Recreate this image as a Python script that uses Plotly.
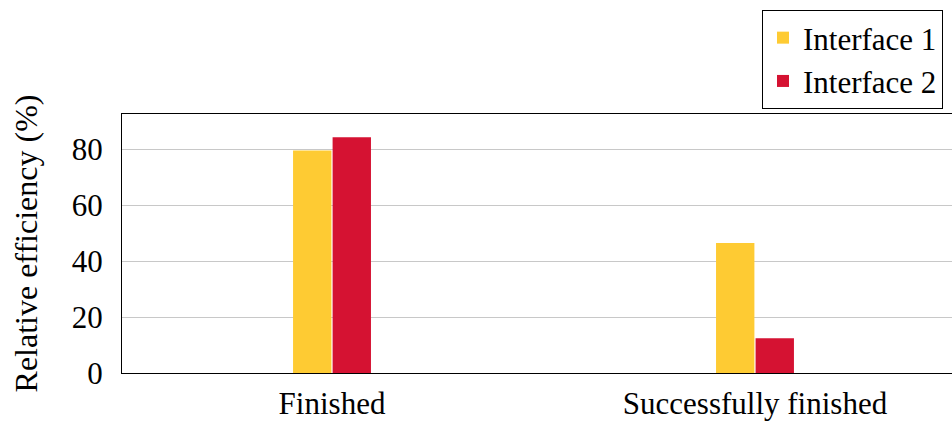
import plotly.graph_objects as go

categories = ["Finished", "Successfully finished"]
series_names = ["Interface 1", "Interface 2"]
interface1 = [79.5, 46.4]
interface2 = [84.2, 12.4]
colors = ["#FECB33", "#D51232"]
y_ticks = [0, 20, 40, 60, 80]

FONT = "Times New Roman"

fig = go.Figure()
for name, vals, col in zip(series_names, [interface1, interface2], colors):
    fig.add_trace(go.Bar(x=categories, y=vals, name=name,
                         marker=dict(color=col, line=dict(width=0))))

W = 1000
fig.update_layout(
    width=W, height=423,
    margin=dict(l=122, r=W - 965, t=114, b=50, autoexpand=False),
    paper_bgcolor="white", plot_bgcolor="white",
    font=dict(family=FONT, size=31, color="black"),
    barmode="group", bargap=0.813, bargroupgap=0.03,
    showlegend=True,
    legend=dict(x=(762 - 122) / 843, y=(373 - 10) / 259, xanchor="left", yanchor="top",
                bordercolor="black", borderwidth=1, bgcolor="white",
                font=dict(family=FONT, size=31), tracegroupgap=0,
                itemsizing="constant"),
    xaxis=dict(type="category", range=[-0.4965, 1.4965], showgrid=False,
               showline=True, linecolor="black", linewidth=1, mirror=True,
               ticks="", ticklabelstandoff=3, automargin=False,
               tickfont=dict(family=FONT, size=31)),
    yaxis=dict(range=[0, 92.5], tickvals=y_ticks, showgrid=True,
               gridcolor="#c8c8c8", gridwidth=1, zeroline=False,
               showline=True, linecolor="black", linewidth=1, mirror=True,
               ticks="", ticklabelstandoff=12, automargin=False,
               tickfont=dict(family=FONT, size=31),
               title=dict(text="Relative efficiency (%)", standoff=24,
                          font=dict(family=FONT, size=32))),
)

fig.write_html("out.html",
               post_script="document.documentElement.style.overflow='hidden';document.body.style.overflow='hidden';document.body.style.margin='0';")
